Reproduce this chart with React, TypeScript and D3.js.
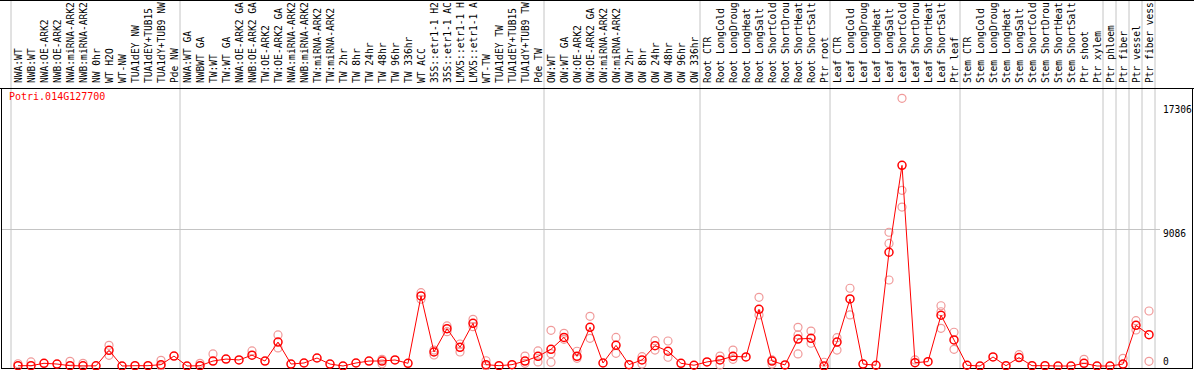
import { useRef, useEffect } from 'react';
import * as d3 from 'd3';

const gene = 'Potri.014G127700';

const samples = [
  'NWA:WT', 'NWB:WT', 'NWA:OE-ARK2', 'NWB:OE-ARK2', 'NWA:miRNA-ARK2', 'NWB:miRNA-ARK2', 'NW 0hr', 'WT H2O',
  'WT-NW', 'TUA1dEY NW', 'TUA1dEY+TUB15', 'TUA1dY+TUB9 NW', 'Pde NW',
  'NWA:WT GA', 'NWBWT GA', 'TW:WT', 'TW:WT GA', 'NWA:OE-ARK2 GA', 'NWB:OE-ARK2 GA', 'TW:OE-ARK2', 'TW:OE-ARK2 GA',
  'NWA:miRNA-ARK2', 'NWB:miRNA-ARK2', 'TW:miRNA-ARK2', 'TW:miRNA-ARK2', 'TW 2hr', 'TW 8hr', 'TW 24hr', 'TW 48hr',
  'TW 96hr', 'TW 336hr', 'WT ACC', '35S::etr1-1 H2', '35S::etr1-1 AC', 'LMX5::etr1-1 H', 'LMX5::etr1-1 A',
  'WT-TW', 'TUA1dEY TW', 'TUA1dEY+TUB15', 'TUA1dY+TUB9 TW', 'Pde TW',
  'OW:WT', 'OW:WT GA', 'OW:OE-ARK2', 'OW:OE-ARK2 GA', 'OW:miRNA-ARK2', 'OW:miRNA-ARK2', 'OW 2hr', 'OW 8hr',
  'OW 24hr', 'OW 48hr', 'OW 96hr', 'OW 336hr',
  'Root CTR', 'Root LongCold', 'Root LongDroug', 'Root LongHeat', 'Root LongSalt', 'Root ShortCold',
  'Root ShortDrou', 'Root ShortHeat', 'Root ShortSalt', 'Ptr root',
  'Leaf CTR', 'Leaf LongCold', 'Leaf LongDroug', 'Leaf LongHeat', 'Leaf LongSalt', 'Leaf ShortCold',
  'Leaf ShortDrou', 'Leaf ShortHeat', 'Leaf ShortSalt', 'Ptr leaf',
  'Stem CTR', 'Stem LongCold', 'Stem LongDroug', 'Stem LongHeat', 'Stem LongSalt', 'Stem ShortCold',
  'Stem ShortDrou', 'Stem ShortHeat', 'Stem ShortSalt', 'Ptr shoot', 'Ptr xylem',
  'Ptr phloem', 'Ptr fiber', 'Ptr vessel', 'Ptr fiber vess',
];

// number of samples in each separated block
const groupSizes = [13, 28, 12, 10, 10, 11, 1, 1, 1, 1];

const means = [
  20, 20, 180, 130, 20, 10, 10, 1040, 0, 20, 20, 90, 660,
  0, 20, 330, 460, 400, 720, 330, 1590, 130, 200, 530, 130, 0, 200, 330, 330,
  400, 180, 4650, 930, 2480, 1240, 2830, 90, 20, 90, 330, 640,
  1110, 1900, 640, 2570, 200, 1370, 90, 400, 1350, 980, 180, 50,
  270, 400, 640, 600, 3760, 330, 70, 1790, 1840, 0,
  1590, 4450, 130, 50, 7550, 13320, 220, 290, 3370, 1730,
  50, 0, 600, 20, 560, 20, 20, 0, 0, 180, 0,
  0, 130, 2700, 2080,
];

const replicates: number[][] = [
  [150], [270], [], [], [310], [180], [], [1370, 710], [], [], [], [380, 0], [],
  [], [180], [800], [], [], [1000], [], [2060, 1200], [], [], [], [], [], [], [], [440, 150],
  [], [], [4870, 4430], [1060, 730], [2660, 2280], [1460, 930], [3100, 2610], [350, 0], [], [], [660, 180], [1000, 270],
  [2370, 820, 250], [2170, 1770], [980, 510], [3300, 1840], [], [1900, 840], [], [620, 130], [1680, 1060], [1660, 580], [], [],
  [], [660, 70], [1060, 440], [], [4560, 3390], [400, 130], [], [2570, 2060, 800], [2320, 1510], [250],
  [1880, 1060], [5160, 3390], [], [], [8880, 8140, 5710], [17770, 11660, 10550], [400], [], [4000, 3600, 2500], [2240, 1110],
  [], [], [], [], [750], [], [], [], [], [440], [],
  [], [510], [3010, 2390], [3650, 310],
];

const yMax = 17306;
const yLabels = [17306, 9086, 0];
const gridValues = [9086];

export default function App() {
  const svgRef = useRef<SVGSVGElement>(null);

  useEffect(() => {
    if (!svgRef.current) return;
    const svg = d3.select(svgRef.current);
    svg.selectAll('*').remove();

    const width = 1194;
    const headerBottom = 88.5;
    const plotBottom = 368.5;
    const font = "'DejaVu Sans Mono', monospace";

    const x = d3.scaleBand<number>().domain(d3.range(samples.length)).range([11.5, 1155.5]);
    const cx = (i: number) => (x(i) as number) + x.bandwidth() / 2;
    const y = d3.scaleLinear().domain([0, yMax]).range([366, 105.3]);

    svg.append('rect').attr('width', width).attr('height', 370).attr('fill', '#fff');

    // gridline
    svg.selectAll('.grid')
      .data(gridValues)
      .join('line')
      .attr('x1', 1).attr('x2', 1160)
      .attr('y1', (d) => Math.round(y(d)) + 0.5)
      .attr('y2', (d) => Math.round(y(d)) + 0.5)
      .attr('stroke', '#c4c4c4');

    // group separators
    let acc = 0;
    const bounds = [0, ...groupSizes.map((s) => (acc += s))];
    svg.selectAll('.sep')
      .data(bounds)
      .join('line')
      .attr('x1', (d) => 11.5 + d * x.step() - 0.5)
      .attr('x2', (d) => 11.5 + d * x.step() - 0.5)
      .attr('y1', 0).attr('y2', plotBottom)
      .attr('stroke', '#c4c4c4');

    // frame
    svg.append('line').attr('x1', 0).attr('x2', width).attr('y1', 0.5).attr('y2', 0.5).attr('stroke', '#000');
    svg.append('line').attr('x1', 0).attr('x2', width).attr('y1', headerBottom).attr('y2', headerBottom).attr('stroke', '#000');
    svg.append('rect')
      .attr('x', 1.5).attr('y', headerBottom)
      .attr('width', 1191).attr('height', plotBottom - headerBottom)
      .attr('fill', 'none').attr('stroke', '#000');

    // sample labels
    svg.selectAll('.lab')
      .data(samples)
      .join('text')
      .attr('transform', (_, i) => `translate(${cx(i) + 4},83) rotate(-90)`)
      .attr('font-family', font)
      .attr('font-size', 9.6)
      .attr('fill', '#000')
      .text((d) => d);

    // gene title
    svg.append('text')
      .attr('x', 9).attr('y', 100)
      .attr('font-family', font).attr('font-size', 10)
      .attr('fill', '#f00')
      .text(gene);

    // y labels
    svg.selectAll('.ylab')
      .data(yLabels)
      .join('text')
      .attr('x', 1163)
      .attr('y', (d) => Math.min(y(d) + 7.5, 365))
      .attr('font-family', font).attr('font-size', 9.6)
      .attr('fill', '#000')
      .text((d) => String(d));

    // replicates
    const repPts = replicates.flatMap((r, i) => r.map((v) => ({ i, v })));
    svg.selectAll('.rep')
      .data(repPts)
      .join('circle')
      .attr('cx', (d) => cx(d.i))
      .attr('cy', (d) => y(d.v))
      .attr('r', 4)
      .attr('fill', 'none')
      .attr('stroke', '#f09a9a')
      .attr('stroke-width', 1.2);

    // mean line
    const line = d3.line<number>()
      .x((_, i) => cx(i))
      .y((d) => y(d));
    svg.append('path')
      .datum(means)
      .attr('fill', 'none')
      .attr('stroke', '#f00')
      .attr('stroke-width', 1)
      .attr('d', line);

    svg.selectAll('.mean')
      .data(means)
      .join('circle')
      .attr('cx', (_, i) => cx(i))
      .attr('cy', (d) => y(d))
      .attr('r', 4)
      .attr('fill', 'none')
      .attr('stroke', '#f00')
      .attr('stroke-width', 1.5);
  }, []);

  return <svg ref={svgRef} width={1194} height={370} style={{ position: 'absolute', left: 0, top: 0 }} />;
}
